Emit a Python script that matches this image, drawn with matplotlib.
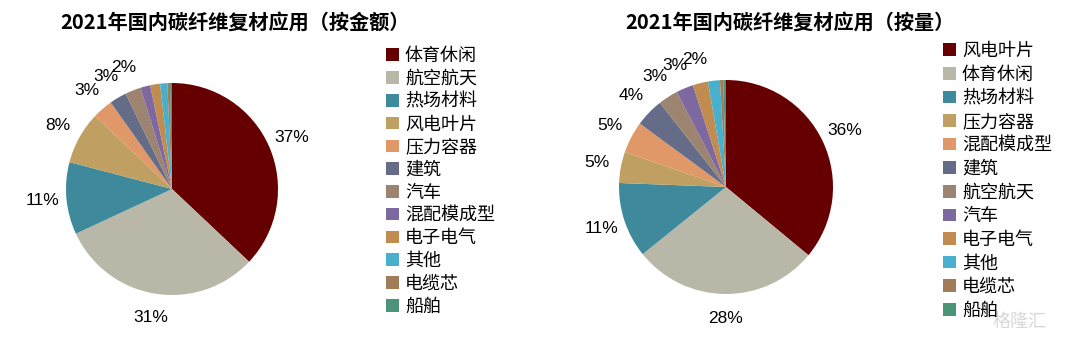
import matplotlib
matplotlib.use("Agg")
import matplotlib.pyplot as plt

plt.rcParams['font.family'] = ['Liberation Sans', 'Noto Sans CJK SC', 'DejaVu Sans']

# 按金额
names_amt = ['体育休闲', '航空航天', '热场材料', '风电叶片', '压力容器', '建筑',
             '汽车', '混配模成型', '电子电气', '其他', '电缆芯', '船舶']
vals_amt = [37, 31, 11, 8, 3.1, 2.6, 2.4, 1.5, 1.5, 1.1, 0.4, 0.3]

# 按量
names_vol = ['风电叶片', '体育休闲', '热场材料', '压力容器', '混配模成型', '建筑',
             '航空航天', '汽车', '电子电气', '其他', '电缆芯', '船舶']
vals_vol = [36, 28.2, 11.4, 4.7, 4.8, 4.3, 3.0, 2.6, 2.3, 1.8, 0.5, 0.4]

colors = ['#660000', '#B9B8A8', '#3E8A9C', '#C0A062', '#E09868', '#646C88',
          '#9C8470', '#7E68A0', '#C08C50', '#48B0CC', '#A07C58', '#4C9478']

W, H = 1066, 338
fig = plt.figure(figsize=(W / 100, H / 100), dpi=100)


def pct_label(p):
    return f'{p:.0f}%' if p >= 2 else ''


def draw(cx, cy, r, vals, names, title, tx, lx, ly, lsp):
    ax = fig.add_axes([(cx - r) / W, (H - cy - r) / H, 2 * r / W, 2 * r / H])
    wedges, texts, autotexts = ax.pie(vals, colors=colors, startangle=90, counterclock=False,
                                      autopct=pct_label, pctdistance=1.23, radius=1,
                                      wedgeprops=dict(linewidth=0),
                                      textprops=dict(fontsize=12.5, color='black'))
    ax.set_xlim(-1, 1)
    ax.set_ylim(-1, 1)
    ax.axis('off')
    fig.text(tx / W, 1 - 22 / H, title, ha='center', va='center', fontsize=14.5,
             fontweight='bold', family=['Noto Sans CJK SC', 'DejaVu Sans'])
    fig.legend(wedges, names, loc='upper left', bbox_to_anchor=(lx / W, 1 - ly / H),
               frameon=False, handlelength=0.7, handleheight=0.7,
               handletextpad=0.35, labelspacing=lsp, borderaxespad=0, borderpad=0,
               prop=dict(family=['Noto Sans CJK SC', 'DejaVu Sans'], size=13))


draw(172, 189, 106, vals_amt, names_amt, '2021年国内碳纤维复材应用（按金额）', 235, 386, 47, 0.265)
draw(726, 187, 107, vals_vol, names_vol, '2021年国内碳纤维复材应用（按量）', 790, 943, 42, 0.31)

fig.text(1020 / W, 1 - 322 / H, '格隆汇', ha='center', va='center', fontsize=13,
         color='#d8d8d8', family=['Noto Sans CJK SC'])

fig.savefig('out.png', dpi=100)
